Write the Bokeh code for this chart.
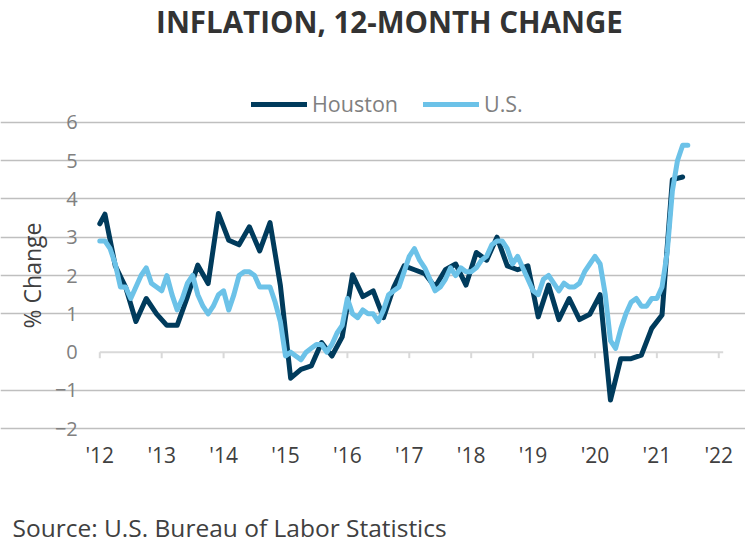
from bokeh.plotting import figure
from bokeh.models import Range1d, FixedTicker, Label, Legend, LegendItem
from bokeh.embed import file_html
from bokeh.resources import INLINE

# ---------------- data ----------------
us_start = "2012-01"
us_values = [
    2.9, 2.9, 2.7, 2.3, 1.7, 1.7, 1.4, 1.7, 2.0, 2.2, 1.8, 1.7,      # 2012
    1.6, 2.0, 1.5, 1.1, 1.4, 1.8, 2.0, 1.5, 1.2, 1.0, 1.2, 1.5,      # 2013
    1.6, 1.1, 1.5, 2.0, 2.1, 2.1, 2.0, 1.7, 1.7, 1.7, 1.3, 0.8,      # 2014
    -0.1, 0.0, -0.1, -0.2, 0.0, 0.1, 0.2, 0.2, 0.0, 0.2, 0.5, 0.7,   # 2015
    1.4, 1.0, 0.9, 1.1, 1.0, 1.0, 0.8, 1.1, 1.5, 1.6, 1.7, 2.1,      # 2016
    2.5, 2.7, 2.4, 2.2, 1.9, 1.6, 1.7, 1.9, 2.2, 2.0, 2.2, 2.1,      # 2017
    2.1, 2.2, 2.4, 2.5, 2.8, 2.9, 2.9, 2.7, 2.3, 2.5, 2.2, 1.9,      # 2018
    1.6, 1.5, 1.9, 2.0, 1.8, 1.6, 1.8, 1.7, 1.7, 1.8, 2.1, 2.3,      # 2019
    2.5, 2.3, 1.5, 0.3, 0.1, 0.6, 1.0, 1.3, 1.4, 1.2, 1.2, 1.4,      # 2020
    1.4, 1.7, 2.6, 4.2, 5.0, 5.4, 5.4,                               # 2021
]

houston_dates = [
    "2012-01", "2012-02", "2012-04", "2012-06", "2012-08", "2012-10", "2012-12",
    "2013-02", "2013-04", "2013-06", "2013-08", "2013-10", "2013-12",
    "2014-02", "2014-04", "2014-06", "2014-08", "2014-10", "2014-12",
    "2015-02", "2015-04", "2015-06", "2015-08", "2015-10", "2015-12",
    "2016-02", "2016-04", "2016-06", "2016-08", "2016-10", "2016-12",
    "2017-02", "2017-04", "2017-06", "2017-08", "2017-10", "2017-12",
    "2018-02", "2018-04", "2018-06", "2018-08", "2018-10", "2018-12",
    "2019-02", "2019-04", "2019-06", "2019-08", "2019-10", "2019-12",
    "2020-02", "2020-04", "2020-06", "2020-08", "2020-10", "2020-12",
    "2021-02", "2021-04", "2021-06",
]
houston_values = [
    3.35, 3.6, 2.25, 1.7, 0.8, 1.4, 1.0,
    0.7, 0.7, 1.45, 2.27, 1.79, 3.62,
    2.92, 2.8, 3.27, 2.64, 3.38, 1.75,
    -0.68, -0.45, -0.36, 0.25, -0.1, 0.4,
    2.02, 1.45, 1.6, 0.9, 1.7, 2.25,
    2.15, 2.05, 1.7, 2.15, 2.3, 1.75,
    2.6, 2.4, 3.0, 2.25, 2.15, 2.25,
    0.92, 1.75, 0.85, 1.4, 0.85, 0.99,
    1.5, -1.25, -0.17, -0.17, -0.08, 0.62,
    0.97, 4.5, 4.57,
]

year_ticks = [2012, 2013, 2014, 2015, 2016, 2017, 2018, 2019, 2020, 2021, 2022]
year_labels = ["'12", "'13", "'14", "'15", "'16", "'17", "'18", "'19", "'20", "'21", "'22"]
y_ticks = [-2, -1, 0, 1, 2, 3, 4, 5, 6]

series_names = ["Houston", "U.S."]
title_text = "INFLATION, 12-MONTH CHANGE"
source_text = "Source: U.S. Bureau of Labor Statistics"

# ---------------- helpers ----------------
def month_index(s):
    y, m = (int(v) for v in s.split("-"))
    return (y - 2012) * 12 + (m - 1)

us_x = [month_index(us_start) + i for i in range(len(us_values))]
h_x = [month_index(d) for d in houston_dates]
tick_x = [(y - 2012) * 12 for y in year_ticks]

FONT = "Open Sans"
DARK = "#003B5C"
LIGHT = "#6CC2E8"

W, H = 745, 550
# plot area (in canvas pixels) that holds the data region
PL, PR, PT, PB = 99.3, 722.7, 121.7, 428.3
X0, X1 = 0.0, 120.86          # month index span of the plot area
Y0, Y1 = y_ticks[0], y_ticks[-1]
sx = (PR - PL) / (X1 - X0)
sy = (PB - PT) / (Y1 - Y0)

# the frame covers the full canvas; ranges are extended so the data area
# lands where the reference has it, and the axes are pinned inside.
x_range = Range1d(X0 - PL / sx, X1 + (W - PR) / sx)
y_range = Range1d(Y0 - (H - PB) / sy, Y1 + PT / sy)

p = figure(width=W, height=H, x_range=x_range, y_range=y_range,
           output_backend="svg", toolbar_location=None,
           min_border_left=0, min_border_right=0,
           min_border_top=0, min_border_bottom=0)
p.outline_line_color = None
p.background_fill_color = "white"
p.border_fill_color = "white"

# x axis: labels only, pinned at the bottom of the plot area
p.xaxis.fixed_location = Y0
p.xaxis.ticker = FixedTicker(ticks=tick_x)
p.xaxis.major_label_overrides = {tx: lab for tx, lab in zip(tick_x, year_labels)}
p.xaxis.axis_line_color = None
p.xaxis.major_tick_line_color = None
p.xaxis.minor_tick_line_color = None
p.xaxis.major_tick_out = 0
p.xaxis.major_tick_in = 0
p.xaxis.major_label_standoff = 12
p.xaxis.major_label_text_font = FONT
p.xaxis.major_label_text_font_size = "21px"
p.xaxis.major_label_text_color = "#404040"
p.xgrid.visible = False

# y axis pinned at the left edge of the plot area
p.yaxis.fixed_location = X0
p.yaxis.ticker = FixedTicker(ticks=y_ticks)
p.yaxis.axis_line_color = None
p.yaxis.major_tick_line_color = None
p.yaxis.minor_tick_line_color = None
p.yaxis.major_tick_out = 0
p.yaxis.major_tick_in = 0
p.yaxis.major_label_standoff = 22
p.yaxis.major_label_text_font = FONT
p.yaxis.major_label_text_font_size = "20px"
p.yaxis.major_label_text_color = "#808080"
p.yaxis.axis_label = "% Change"
p.yaxis.axis_label_text_font = FONT
p.yaxis.axis_label_text_font_style = "normal"
p.yaxis.axis_label_text_font_size = "23px"
p.yaxis.axis_label_text_color = "#404040"
p.yaxis.axis_label_standoff = 4

p.ygrid.ticker = FixedTicker(ticks=[t for t in y_ticks if t != 0])
p.ygrid.bounds = (X0, X1)
p.ygrid.grid_line_color = "#BFBFBF"
p.ygrid.grid_line_width = 1.5

# zero line with small tick marks (Excel-style horizontal axis at 0)
tick_len = 6 / sy
p.segment(x0=[X0], x1=[X1], y0=[0], y1=[0], line_color="#D9D9D9", line_width=2)
p.segment(x0=tick_x, x1=tick_x, y0=[0] * len(tick_x), y1=[-tick_len] * len(tick_x),
          line_color="#D9D9D9", line_width=2)

# series
hr = p.line(h_x, houston_values, line_color=DARK, line_width=5,
            line_join="round", line_cap="round")
ur = p.line(us_x, us_values, line_color=LIGHT, line_width=5,
            line_join="round", line_cap="round")

legend = Legend(items=[LegendItem(label=series_names[0], renderers=[hr]),
                       LegendItem(label=series_names[1], renderers=[ur])],
                orientation="horizontal", location=(251, 432),
                glyph_width=56, glyph_height=20, label_standoff=5, spacing=25,
                padding=0, margin=0, border_line_color=None,
                background_fill_alpha=0,
                label_text_font=FONT, label_text_font_size="21.5px",
                label_text_color="#808080")
p.add_layout(legend)

# title and source (screen units: from the canvas bottom-left)
p.add_layout(Label(x=389, y=H - 21, x_units="screen", y_units="screen",
                   text=title_text, text_align="center", text_baseline="alphabetic",
                   text_font=FONT, text_font_style="bold", text_font_size="29.5px",
                   text_color="#333333"))
p.add_layout(Label(x=12, y=H - 527, x_units="screen", y_units="screen",
                   text=source_text, text_align="left", text_baseline="alphabetic",
                   text_font=FONT, text_font_size="24.5px", text_color="#404040"))

open("out.html", "w").write(file_html(p, INLINE))
